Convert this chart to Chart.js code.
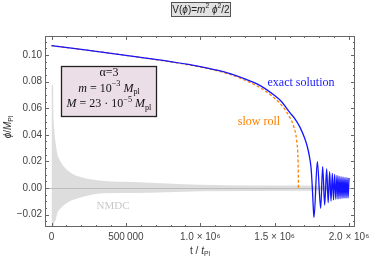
<!DOCTYPE html>
<html>
<head>
<meta charset="utf-8">
<script src="https://cdn.jsdelivr.net/npm/chart.js@4.4.0/dist/chart.umd.min.js"></script>
<style>
  html, body { margin: 0; padding: 0; background: #fff; }
  #wrap { width: 374px; height: 258px; position: relative; }
</style>
</head>
<body>
<div id="wrap"><canvas id="phiChart"></canvas></div>
<script>
// values (t in Planck times, phi in M_Pl)
const exactT = [0, 200000, 400000, 600000, 800000, 1000000, 1100000, 1200000, 1300000, 1400000,
  1500000, 1550000, 1600000, 1640000, 1670000, 1700000, 1720000, 1735000, 1745000, 1753500,
  1760000, 1764700, 1787100, 1809500, 1823000, 1836400, 1849900, 1860000, 1870000, 1879000,
  1888000, 1895800, 1903700, 1911500, 1919400, 1926100, 1932800, 1939500, 1946300, 1953000,
  1959700, 1966400, 1973100, 1979900, 1986600, 1993300, 2000000];
const exactPhi = [0.1070, 0.1042, 0.1013, 0.0982, 0.0950, 0.0913, 0.0889, 0.0860, 0.0820, 0.0772,
  0.0695, 0.0645, 0.0570, 0.0515, 0.0458, 0.0380, 0.0310, 0.0230, 0.0150, 0.0000,
  -0.0150, -0.0221, 0.0198, -0.0153, 0.0160, -0.0128, 0.0143, -0.0110, 0.0123, -0.0098,
  0.0110, -0.0090, 0.0103, -0.0085, 0.0095, -0.0083, 0.0090, -0.0080, 0.0085, -0.0078,
  0.0083, -0.0077, 0.0080, -0.0076, 0.0078, -0.0075, 0.0075];

const slowT = [0, 200000, 400000, 600000, 800000, 1000000, 1100000, 1200000, 1300000, 1400000,
  1500000, 1550000, 1600000, 1626000, 1648000, 1656000, 1659000, 1660000];
const slowPhi = [0.1070, 0.1042, 0.1013, 0.0981, 0.0948, 0.0910, 0.0885, 0.0855, 0.0810, 0.0756,
  0.0675, 0.0618, 0.0535, 0.0470, 0.0360, 0.0250, 0.0120, 0.0000];

// NMDC oscillation drawn as its envelope band
const nmdcT = [0, 11000, 14000, 16800, 28000, 39000, 62000, 84000, 129000, 174000,
  263000, 353000, 550000, 1000000, 1670000, 2000000];
const nmdcUpper = [0.078, 0.076, 0.052, 0.046, 0.0336, 0.026, 0.0198, 0.016, 0.0115, 0.009,
  0.0065, 0.0053, 0.0045, 0.0025, 0.0018, 0.0015];
const nmdcLower = [-0.035, -0.035, -0.032, -0.0278, -0.024, -0.019, -0.0153, -0.0128, -0.0095, -0.0078,
  -0.0053, -0.0040, -0.0038, -0.0025, -0.0020, -0.0018];

const xTicks = [0, 500000, 1000000, 1500000, 2000000];
const xTickLabels = ['0', '500\u2009000', '1.0 \u00d7 10\u2076', '1.5 \u00d7 10\u2076', '2.0 \u00d7 10\u2076'];
const yTicks = [-0.02, 0, 0.02, 0.04, 0.06, 0.08, 0.10];
const yTickLabels = ['\u22120.02', '0.00', '0.02', '0.04', '0.06', '0.08', '0.10'];

const SANS = '"Liberation Sans", Arial, sans-serif';
const SERIF = '"Liberation Serif", "Times New Roman", serif';

const pts = (xs, ys) => xs.map((x, i) => ({ x, y: ys[i] }));

// draws a line of mixed text (italic / super / subscript), centred on cx
function drawRich(ctx, parts, cx, cy, size, family, color) {
  const segs = parts.map(p => {
    const s = (p.sup || p.sub) ? size * 0.68 : size;
    const font = (p.it ? 'italic ' : '') + s + 'px ' + family;
    ctx.font = font;
    return { text: p.t, font, w: ctx.measureText(p.t).width, dy: p.sup ? -size * 0.38 : p.sub ? size * 0.3 : 0 };
  });
  let x = cx - segs.reduce((a, s) => a + s.w, 0) / 2;
  ctx.fillStyle = color;
  ctx.textBaseline = 'middle';
  ctx.textAlign = 'left';
  segs.forEach(s => { ctx.font = s.font; ctx.fillText(s.text, x, cy + s.dy); x += s.w; });
}

const decor = {
  id: 'decor',
  beforeDatasetDraw(chart, args) {
    // zero axis line, over the gray band but under the curves
    if (args.index !== 1) return;
    const { ctx, chartArea: a } = chart;
    const y0 = Math.round(chart.scales.y.getPixelForValue(0)) + 0.5;
    ctx.save();
    ctx.strokeStyle = '#bdbdbd';
    ctx.lineWidth = 1;
    ctx.beginPath();
    ctx.moveTo(a.left, y0);
    ctx.lineTo(a.right, y0);
    ctx.stroke();
    ctx.restore();
  },
  afterDraw(chart) {
    const { ctx, chartArea: a } = chart;
    const xs = chart.scales.x, ys = chart.scales.y;
    ctx.save();

    // frame with inward ticks
    ctx.strokeStyle = '#666';
    ctx.lineWidth = 1;
    ctx.strokeRect(a.left + 0.5, a.top + 0.5, a.right - a.left - 1, a.bottom - a.top - 1);
    ctx.beginPath();
    for (let k = 0; k <= 20; k++) {
      const px = Math.round(xs.getPixelForValue(k * 100000)) + 0.5;
      const len = k % 5 === 0 ? 4 : 2;
      ctx.moveTo(px, a.bottom); ctx.lineTo(px, a.bottom - len);
      ctx.moveTo(px, a.top); ctx.lineTo(px, a.top + len);
    }
    for (let k = -5; k <= 22; k++) {
      const py = Math.round(ys.getPixelForValue(k * 0.005)) + 0.5;
      const len = k % 4 === 0 ? 4 : 2;
      ctx.moveTo(a.left, py); ctx.lineTo(a.left + len, py);
      ctx.moveTo(a.right, py); ctx.lineTo(a.right - len, py);
    }
    ctx.stroke();

    // title box
    ctx.fillStyle = '#e2e2e2';
    ctx.fillRect(171, 2, 60, 15);
    ctx.strokeStyle = '#555';
    ctx.strokeRect(171.5, 2.5, 59, 14);
    drawRich(ctx, [{ t: 'V(' }, { t: '\u03d5', it: 1 }, { t: ')=' }, { t: 'm', it: 1 }, { t: '2', sup: 1 },
      { t: ' ' }, { t: '\u03d5', it: 1 }, { t: '2', sup: 1 }, { t: '/2' }], 201, 10, 10, SANS, '#222');

    // parameter box
    ctx.fillStyle = '#ecdee6';
    ctx.fillRect(61, 66, 96, 51);
    ctx.strokeStyle = '#222';
    ctx.lineWidth = 1.3;
    ctx.strokeRect(61.5, 66.5, 95, 50);
    drawRich(ctx, [{ t: '\u03b1=3' }], 109, 73, 12, SERIF, '#111');
    drawRich(ctx, [{ t: 'm', it: 1 }, { t: ' = 10' }, { t: '\u22123', sup: 1 }, { t: ' ' },
      { t: 'M', it: 1 }, { t: 'pl', sub: 1 }], 109, 88.5, 12, SERIF, '#111');
    drawRich(ctx, [{ t: 'M', it: 1 }, { t: ' = 23 \u00b7 10' }, { t: '\u22125', sup: 1 }, { t: ' ' },
      { t: 'M', it: 1 }, { t: 'pl', sub: 1 }], 109, 104, 12, SERIF, '#111');

    // curve labels
    drawRich(ctx, [{ t: 'exact solution' }], 301, 83, 12, SERIF, '#1a1aff');
    drawRich(ctx, [{ t: 'slow roll' }], 259, 122, 12, SERIF, '#ff8000');
    drawRich(ctx, [{ t: 'NMDC' }], 113, 206, 11, SERIF, '#c8c8c8');

    // axis titles
    drawRich(ctx, [{ t: 't / ' }, { t: 't', it: 1 }, { t: 'Pl', sub: 1 }], 200, 251, 10, SANS, '#333');
    ctx.translate(8, 127);
    ctx.rotate(-Math.PI / 2);
    drawRich(ctx, [{ t: '\u03d5', it: 1 }, { t: '/' }, { t: 'M', it: 1 }, { t: 'Pl', sub: 1 }], 0, 0, 10, SANS, '#333');
    ctx.restore();
  }
};

new Chart(document.getElementById('phiChart'), {
  type: 'line',
  data: {
    datasets: [
      {
        label: 'exact solution',
        data: pts(exactT, exactPhi),
        borderColor: '#1414ff',
        borderWidth: 1.3,
        pointRadius: 0,
        cubicInterpolationMode: 'monotone',
        fill: false
      },
      {
        label: 'slow roll',
        data: pts(slowT, slowPhi),
        borderColor: '#ff8000',
        borderWidth: 1.3,
        borderDash: [3, 2],
        pointRadius: 0,
        cubicInterpolationMode: 'monotone',
        fill: false
      },
      {
        label: 'NMDC',
        data: pts(nmdcT, nmdcUpper),
        borderWidth: 0,
        pointRadius: 0,
        cubicInterpolationMode: 'monotone',
        backgroundColor: '#dddddd',
        fill: '+1'
      },
      {
        label: 'NMDC lower',
        data: pts(nmdcT, nmdcLower),
        borderWidth: 0,
        pointRadius: 0,
        cubicInterpolationMode: 'monotone',
        fill: false
      }
    ]
  },
  options: {
    responsive: true,
    maintainAspectRatio: false,
    animation: false,
    layout: { padding: { top: 36, right: 19, left: 0, bottom: 0 } },
    plugins: { legend: { display: false }, tooltip: { enabled: false } },
    scales: {
      x: {
        type: 'linear',
        min: -43700,
        max: 2040300,
        afterBuildTicks: s => { s.ticks = xTicks.map(v => ({ value: v })); },
        afterFit: s => { s.height = 31; },
        ticks: {
          callback: (v, i) => xTickLabels[i],
          font: { family: SANS, size: 10 },
          color: '#444',
          padding: 4,
          maxRotation: 0,
          autoSkip: false
        },
        grid: { display: false, drawTicks: false },
        border: { display: false }
      },
      y: {
        min: -0.02932,
        max: 0.11429,
        afterBuildTicks: s => { s.ticks = yTicks.map(v => ({ value: v })); },
        afterFit: s => { s.width = 45; },
        ticks: {
          callback: (v, i) => yTickLabels[i],
          font: { family: SANS, size: 10 },
          color: '#444',
          padding: 3,
          autoSkip: false
        },
        grid: { display: false, drawTicks: false },
        border: { display: false }
      }
    }
  },
  plugins: [decor]
});
</script>
</body>
</html>
